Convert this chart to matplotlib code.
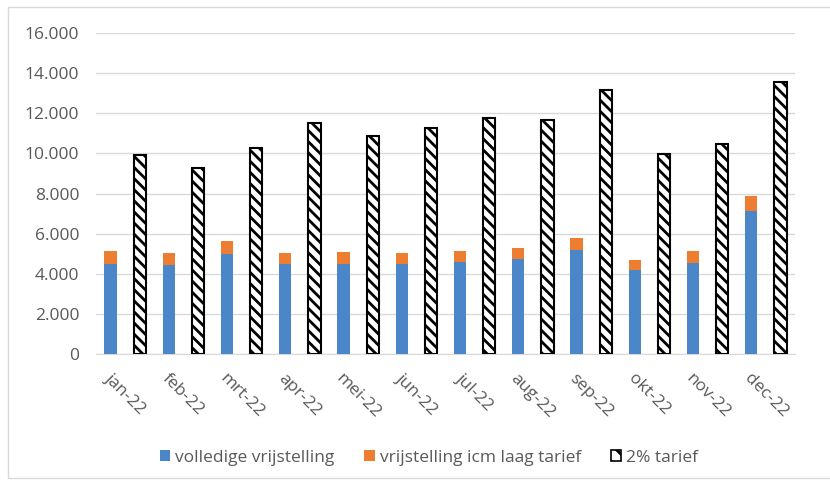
import numpy as np
import matplotlib
matplotlib.use("Agg")
import matplotlib.pyplot as plt
from matplotlib.patches import Rectangle, Patch

# maanden
maanden = ["jan-22", "feb-22", "mrt-22", "apr-22", "mei-22", "jun-22",
           "jul-22", "aug-22", "sep-22", "okt-22", "nov-22", "dec-22"]
volledig = [4510, 4430, 4980, 4510, 4510, 4510, 4590, 4730, 5170, 4210, 4560, 7130]
laag_tarief = [630, 610, 630, 530, 580, 530, 550, 560, 600, 470, 580, 730]
tarief_2pct = [9930, 9270, 10250, 11530, 10860, 11260, 11780, 11680, 13180, 9990, 10480, 13550]
yticks = [0, 2000, 4000, 6000, 8000, 10000, 12000, 14000, 16000]

plt.rcParams['font.family'] = ['Open Sans', 'DejaVu Sans']
plt.rcParams['hatch.linewidth'] = 2.0

grijs = '#595959'
blauw = '#4a86c8'
oranje = '#ed7d31'
fs = 12.5

fig = plt.figure(figsize=(8.3, 4.82), dpi=100)
ax = fig.add_axes([96 / 830, 1 - 354 / 482, (795 - 96) / 830, (354 - 33) / 482])

x = np.arange(len(maanden))
b = 0.21
ax.bar(x - 0.25, volledig, width=b, color=blauw, zorder=3)
ax.bar(x - 0.25, laag_tarief, width=b, bottom=volledig, color=oranje, zorder=3)
ax.bar(x + 0.25, tarief_2pct, width=b, facecolor='white', edgecolor='black',
       hatch='\\\\\\', linewidth=1.5, zorder=3)

ax.set_xlim(-0.5, len(maanden) - 0.5)
ax.set_ylim(0, 16000)
ax.set_yticks(yticks)
ax.set_yticklabels([f"{v:,}".replace(",", ".") for v in yticks], fontsize=fs, color=grijs)
ax.set_xticks(x)
ax.set_xticklabels(maanden, rotation=-45, ha='center', va='top', fontsize=fs, color=grijs)
ax.tick_params(length=0)
ax.tick_params(axis='y', pad=12)
ax.tick_params(axis='x', pad=12)
ax.grid(axis='y', color='#d9d9d9', linewidth=1, zorder=0)
for s in ['top', 'right', 'left']:
    ax.spines[s].set_visible(False)
ax.spines['bottom'].set_color('#d9d9d9')

handles = [Patch(facecolor=blauw), Patch(facecolor=oranje),
           Patch(facecolor='white', edgecolor='black', hatch='\\\\', linewidth=1.2)]
fig.legend(handles, ["volledige vrijstelling", "vrijstelling icm laag tarief", "2% tarief"],
           loc='center', bbox_to_anchor=(429 / 830, 1 - 458 / 482), ncol=3, frameon=False,
           fontsize=fs, handlelength=0.6, handleheight=0.6, handletextpad=0.3,
           columnspacing=1.7, labelcolor=grijs)

# kader rond de grafiek (rechterrand valt buiten beeld)
fig.add_artist(Rectangle((8 / 830, 1 - 478 / 482), 840 / 830, 471 / 482,
                         transform=fig.transFigure, fill=False, edgecolor='#d9d9d9', linewidth=1))

fig.savefig("out.png", dpi=100)
